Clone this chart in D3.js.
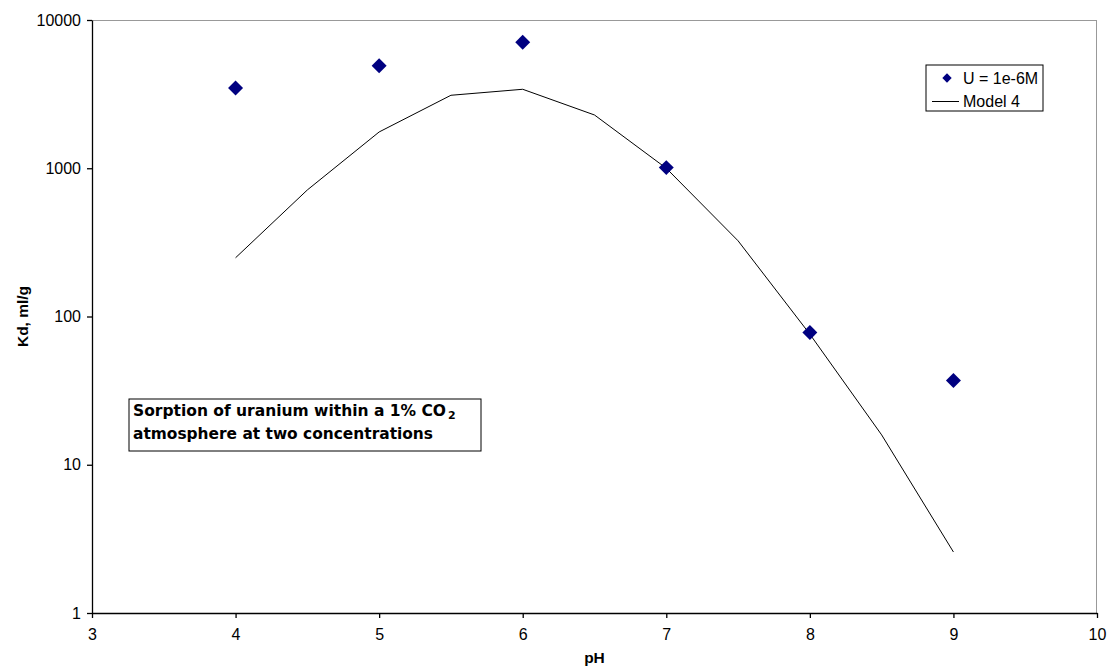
<!DOCTYPE html>
<html>
<head>
<meta charset="utf-8">
<script src="https://cdn.jsdelivr.net/npm/d3@7"></script>
<style>
  body { margin: 0; background: #fff; }
  svg { display: block; }
</style>
</head>
<body>
<div id="chart"></div>
<script>
// measured points
const phMeasured = [4, 5, 6, 7, 8, 9];
const kdMeasured = [3480, 4920, 7080, 1010, 78, 37];

// model curve
const phModel = [4, 4.5, 5, 5.5, 6, 6.5, 7, 7.5, 8, 8.5, 9];
const kdModel = [249, 714, 1757, 3106, 3410, 2287, 1000, 324, 76, 15.9, 2.58];

const xTicks = [3, 4, 5, 6, 7, 8, 9, 10];
const yTicks = [1, 10, 100, 1000, 10000];

const seriesNames = ["U = 1e-6M", "Model 4"];
const noteLines = ["Sorption of uranium within a 1% CO", "atmosphere at two concentrations"];

const width = 1108, height = 668;
const margin = { top: 20, right: 11, bottom: 55, left: 92 };
const innerW = width - margin.left - margin.right;
const innerH = height - margin.top - margin.bottom;
const font = "'Liberation Sans', Arial, sans-serif";

const svg = d3.select("#chart").append("svg")
    .attr("width", width)
    .attr("height", height)
    .style("font-family", font);

const g = svg.append("g").attr("transform", `translate(${margin.left},${margin.top})`);

const x = d3.scaleLinear().domain([3, 10]).range([0, innerW]);
const y = d3.scaleLog().domain([1, 10000]).range([innerH, 0]);

// top / right frame in grey
g.append("line").attr("x1", 0).attr("x2", innerW).attr("y1", 0.5).attr("y2", 0.5)
    .attr("stroke", "#999").attr("stroke-width", 1);
g.append("line").attr("x1", innerW - 0.5).attr("x2", innerW - 0.5).attr("y1", 0).attr("y2", innerH)
    .attr("stroke", "#999").attr("stroke-width", 1);

// axes
const xAxis = g.append("g")
    .attr("transform", `translate(0,${innerH})`)
    .call(d3.axisBottom(x).tickValues(xTicks).tickFormat(d3.format("d")).tickSize(5).tickSizeOuter(0));
const yAxis = g.append("g")
    .call(d3.axisLeft(y).tickValues(yTicks).tickFormat(d3.format("d")).tickSize(5).tickSizeOuter(0));

[xAxis, yAxis].forEach(a => {
    a.attr("font-family", font).attr("font-size", 16);
    a.selectAll("path, line").attr("stroke", "#000").attr("stroke-width", 1.3);
    a.selectAll("text").attr("fill", "#000");
});
xAxis.selectAll("text").attr("y", 16);
yAxis.selectAll("text").attr("x", -11);

// model line
const line = d3.line()
    .x((d, i) => x(phModel[i]))
    .y(d => y(d));
g.append("path")
    .datum(kdModel)
    .attr("d", line)
    .attr("fill", "none")
    .attr("stroke", "#000")
    .attr("stroke-width", 1);

// measured diamonds
const diamond = d3.symbol().type(d3.symbolSquare).size(112);
g.selectAll(".pt")
    .data(kdMeasured)
    .enter()
    .append("path")
    .attr("class", "pt")
    .attr("d", diamond)
    .attr("transform", (d, i) => `translate(${x(phMeasured[i])},${y(d)}) rotate(45)`)
    .attr("fill", "#000080");

// axis titles
svg.append("text")
    .attr("x", margin.left + innerW / 2)
    .attr("y", 663)
    .attr("text-anchor", "middle")
    .style("font-size", "15.5px")
    .style("font-weight", "bold")
    .text("pH");

svg.append("text")
    .attr("transform", `translate(28,${margin.top + innerH / 2}) rotate(-90)`)
    .attr("text-anchor", "middle")
    .style("font-size", "15.5px")
    .style("font-weight", "bold")
    .text("Kd, ml/g");

// legend
const legend = svg.append("g").attr("transform", "translate(926,65)");
legend.append("rect")
    .attr("width", 117).attr("height", 46)
    .attr("fill", "#fff").attr("stroke", "#000").attr("stroke-width", 1);
legend.append("path")
    .attr("d", d3.symbol().type(d3.symbolSquare).size(44))
    .attr("transform", "translate(21,13) rotate(45)")
    .attr("fill", "#000080");
legend.append("line")
    .attr("x1", 6).attr("x2", 33).attr("y1", 36.5).attr("y2", 36.5)
    .attr("stroke", "#000").attr("stroke-width", 1);
legend.selectAll(".lt")
    .data(seriesNames)
    .enter()
    .append("text")
    .attr("x", 37)
    .attr("y", (d, i) => 18.5 + i * 23)
    .style("font-size", "16px")
    .text(d => d);

// annotation box
const noteFont = "'DejaVu Sans', Verdana, sans-serif";
const note = svg.append("g").attr("transform", "translate(129,399)");
note.append("rect")
    .attr("width", 352).attr("height", 52)
    .attr("fill", "#fff").attr("stroke", "#000").attr("stroke-width", 1);
note.append("text")
    .attr("x", 4).attr("y", 16.5)
    .attr("textLength", 313).attr("lengthAdjust", "spacingAndGlyphs")
    .style("font-family", noteFont)
    .style("font-size", "16px")
    .style("font-weight", "bold")
    .text(noteLines[0]);
note.append("text")
    .attr("x", 319).attr("y", 19.5)
    .style("font-family", noteFont)
    .style("font-size", "11px")
    .style("font-weight", "bold")
    .text("2");
note.append("text")
    .attr("x", 4).attr("y", 39.5)
    .attr("textLength", 300).attr("lengthAdjust", "spacingAndGlyphs")
    .style("font-family", noteFont)
    .style("font-size", "16px")
    .style("font-weight", "bold")
    .text(noteLines[1]);
</script>
</body>
</html>
